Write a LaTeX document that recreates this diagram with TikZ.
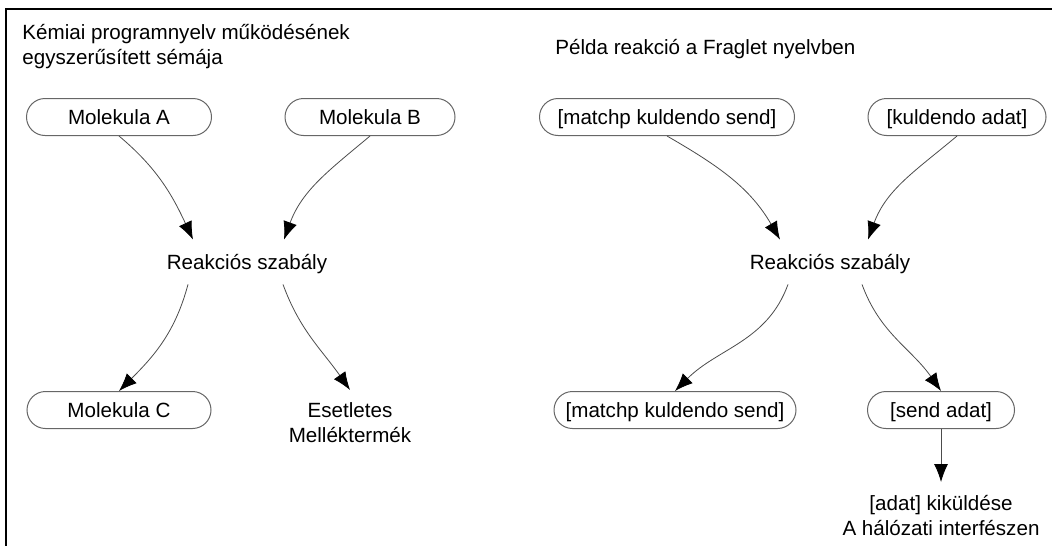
\documentclass[tikz,border=0pt]{standalone}
\usepackage{fontspec}
\setmainfont{Liberation Sans}
\usetikzlibrary{arrows.meta}
\begin{document}
\begin{tikzpicture}[x=0.5pt,y=-0.5pt]
	\tikzset{betu/.style={font=\fontsize{10.3}{12.5}\selectfont},
		molekula/.style={betu, draw=black!60, line width=0.5pt, rounded corners=9.25pt,
			minimum height=18.5pt, inner sep=0pt, text height=0.72em, text depth=0pt},
		szabaly/.style={betu, inner sep=0pt, minimum height=22pt, text height=0.72em, text depth=0pt},
		szoveg/.style={betu, inner sep=0pt, align=center},
		nyil/.style={draw=black!70, line width=0.4pt, -{Latex[length=9pt,width=7pt,black]}}}
	\useasboundingbox (0,0) rectangle (1052,546);
	\draw[line width=0.8pt] (1052,9) -- (6,9) -- (6,546);
	\node[betu, anchor=north west, inner sep=0pt, align=left] (cim1) at (22,24)
		{Kémiai programnyelv működésének\\egyszerűsített sémája};
	\node[betu, anchor=base west, inner sep=0pt] (cim2) at (555,54)
		{Példa reakció a Fraglet nyelvben};
	\node[molekula, minimum width=92.5pt] (molA) at (119,117) {Molekula A};
	\node[molekula, minimum width=85pt] (molB) at (370,117) {Molekula B};
	\node[szabaly] (szab1) at (247,262) {Reakciós szabály};
	\node[molekula, minimum width=92pt] (molC) at (119,410) {Molekula C};
	\node[szoveg, anchor=north] (mell) at (350,402) {Esetletes\\Melléktermék};
	\node[molekula, minimum width=127.5pt] (match1) at (667,117) {[matchp kuldendo send]};
	\node[molekula, minimum width=89pt] (kuld) at (957,117) {[kuldendo adat]};
	\node[szabaly] (szab2) at (830,262) {Reakciós szabály};
	\node[molekula, minimum width=121pt] (match2) at (675,410) {[matchp kuldendo send]};
	\node[molekula, minimum width=73.5pt] (send) at (941,410) {[send adat]};
	\node[szoveg, anchor=north] (halo) at (941,495) {[adat] kiküldése\\A hálózati interfészen};
	\draw[nyil] (molA.south) to[out=-40,in=115] ([xshift=-27pt]szab1.north);
	\draw[nyil] (molB.south) to[out=-140,in=70] ([xshift=18.5pt]szab1.north);
	\draw[nyil] ([xshift=-29.5pt]szab1.south) to[out=-105,in=45] (molC.north);
	\draw[nyil] ([xshift=18pt]szab1.south) to[out=-70,in=125] ([yshift=6pt]mell.north);
	\draw[nyil] (match1.south) to[out=-30,in=120] ([xshift=-25pt]szab2.north);
	\draw[nyil] (kuld.south) to[out=-140,in=70] ([xshift=19pt]szab2.north);
	\draw[nyil] ([xshift=-21pt]szab2.south) to[out=-110,in=45] (match2.north);
	\draw[nyil] ([xshift=16pt]szab2.south) to[out=-70,in=125] (send.north);
	\draw[nyil] (send.south) -- ([yshift=6.5pt]halo.north);
\end{tikzpicture}
\end{document}
